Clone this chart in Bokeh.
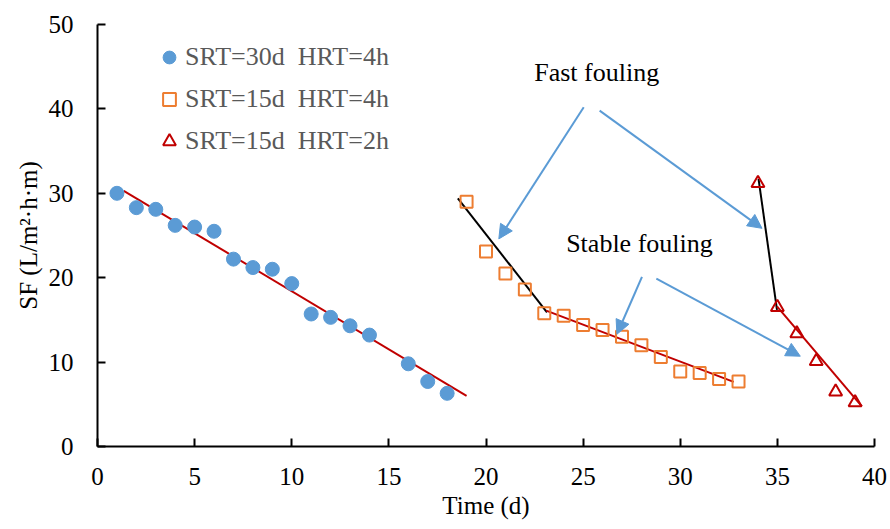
from bokeh.plotting import figure
from bokeh.models import Range1d, Legend, LegendItem, Arrow, NormalHead, ColumnDataSource, FixedTicker
from bokeh.core.properties import value
from bokeh.embed import file_html
from bokeh.resources import INLINE

# ---- data ----
s1_day = [1, 2, 3, 4, 5, 6, 7, 8, 9, 10, 11, 12, 13, 14, 16, 17, 18]
s1_sf = [30.0, 28.3, 28.1, 26.2, 26.0, 25.5, 22.2, 21.2, 21.0, 19.3, 15.7, 15.3, 14.3, 13.2, 9.8, 7.7, 6.3]

s2_day = [19, 20, 21, 22, 23, 24, 25, 26, 27, 28, 29, 30, 31, 32, 33]
s2_sf = [29.0, 23.1, 20.5, 18.6, 15.8, 15.5, 14.4, 13.8, 13.0, 12.0, 10.6, 8.9, 8.7, 8.0, 7.7]

s3_day = [34, 35, 36, 37, 38, 39]
s3_sf = [31.2, 16.5, 13.4, 10.1, 6.5, 5.2]

fit1_x = [1.35, 19.0]
fit1_y = [30.3, 6.0]
fast2_x = [18.55, 23.14]
fast2_y = [29.4, 15.9]
stable2_x = [23.1, 32.75]
stable2_y = [16.1, 7.65]
fast3_x = [34.03, 34.98]
fast3_y = [31.7, 16.2]
stable3_x = [34.98, 39.35]
stable3_y = [16.6, 4.76]

arrow_x0 = [25.03, 25.85, 28.03, 28.77]
arrow_y0 = [40.2, 39.8, 20.1, 19.9]
arrow_x1 = [20.66, 34.21, 26.74, 36.18]
arrow_y1 = [24.6, 25.85, 13.3, 10.7]

note_text = ["Fast fouling", "Stable fouling"]
note_x = [25.7, 27.9]
note_y = [44.3, 24.1]

series_labels = ["SRT=30d  HRT=4h", "SRT=15d  HRT=4h", "SRT=15d  HRT=2h"]
x_ticks = [0, 5, 10, 15, 20, 25, 30, 35, 40]
y_ticks = [0, 10, 20, 30, 40, 50]

FONT = "Liberation Serif"
BLUE = "#5B9BD5"
ORANGE = "#ED7D31"
RED = "#C00000"

p = figure(width=888, height=521, output_backend="svg", toolbar_location=None,
           x_range=Range1d(0, 40), y_range=Range1d(0, 50),
           min_border_left=97, min_border_right=14, min_border_top=24, min_border_bottom=74)
p.grid.visible = False
p.outline_line_color = None
p.background_fill_color = "white"
p.border_fill_color = "white"

for ax in (p.xaxis[0], p.yaxis[0]):
    ax.axis_line_width = 2
    ax.axis_line_color = "black"
    ax.major_tick_line_width = 2
    ax.major_tick_line_color = "black"
    ax.major_tick_in = 8
    ax.major_tick_out = 0
    ax.minor_tick_line_color = None
    ax.major_label_text_font = FONT
    ax.major_label_text_font_size = "25px"
    ax.major_label_text_color = "black"
    ax.axis_label_text_font = FONT
    ax.axis_label_text_font_size = "25px"
    ax.axis_label_text_font_style = "normal"
    ax.axis_label_text_color = "black"

p.xaxis.ticker = FixedTicker(ticks=x_ticks)
p.yaxis.ticker = FixedTicker(ticks=y_ticks)
p.xaxis.axis_label = "Time (d)"
p.yaxis.axis_label = "SF (L/m\u00b2\u00b7h\u00b7m)"
p.xaxis.major_label_standoff = 21
p.yaxis.major_label_standoff = 24
p.xaxis.axis_label_standoff = 4
p.yaxis.axis_label_standoff = 4

# trend lines
p.line(fit1_x, fit1_y, line_color=RED, line_width=2)
p.line(fast2_x, fast2_y, line_color="black", line_width=2)
p.line(stable2_x, stable2_y, line_color=RED, line_width=2)
p.line(fast3_x, fast3_y, line_color="black", line_width=2)
p.line(stable3_x, stable3_y, line_color=RED, line_width=2)

# series
r1 = p.scatter(s1_day, s1_sf, marker="circle", size=14, fill_color=BLUE, line_color=BLUE)
r2 = p.scatter(s2_day, s2_sf, marker="square", size=12, fill_color=None, line_color=ORANGE, line_width=2)
r3 = p.scatter(s3_day, s3_sf, marker="triangle", size=13, fill_color=None, line_color=RED, line_width=2)

# arrows
for xa, ya, xb, yb in zip(arrow_x0, arrow_y0, arrow_x1, arrow_y1):
    p.add_layout(Arrow(end=NormalHead(size=14, fill_color=BLUE, line_color=BLUE),
                       x_start=xa, y_start=ya, x_end=xb, y_end=yb,
                       line_color=BLUE, line_width=2))

# notes
note_src = ColumnDataSource(dict(x=note_x, y=note_y, t=note_text))
p.text("x", "y", text="t", source=note_src, text_font=value(FONT), text_font_size="26px",
       text_align="center", text_baseline="middle", text_color="black")

legend = Legend(items=[LegendItem(label=series_labels[0], renderers=[r1]),
                       LegendItem(label=series_labels[1], renderers=[r2]),
                       LegendItem(label=series_labels[2], renderers=[r3])],
                location=(56, 284), orientation="vertical",
                glyph_width=32, glyph_height=42, label_height=42, spacing=0,
                padding=0, margin=0, label_standoff=0,
                label_text_font=FONT, label_text_font_size="26px", label_text_color="#595959",
                border_line_color=None, background_fill_alpha=0)
p.add_layout(legend, "center")

open("out.html", "w").write(file_html(p, INLINE))
